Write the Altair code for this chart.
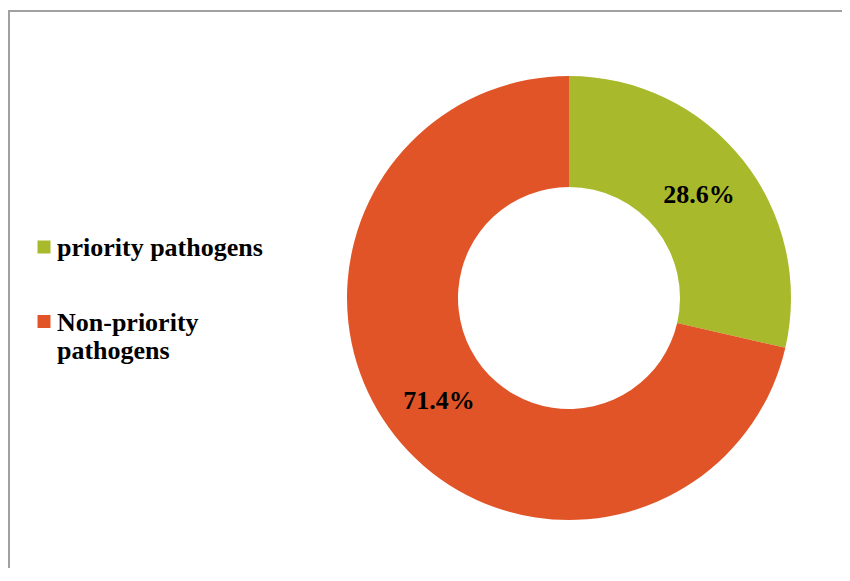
import altair as alt
import pandas as pd

categories = ["priority pathogens", "Non-priority pathogens"]
legend_text = ["priority pathogens", "Non-priority\npathogens"]
shares = [28.6, 71.4]
label_text = ["28.6%", "71.4%"]
colors = ["#A8B92B", "#E15427"]

df = pd.DataFrame({
    "category": categories,
    "share": shares,
    "label": label_text,
    "legend": legend_text,
    "order": [0, 1],
})

color = alt.Color("category:N", scale=alt.Scale(domain=categories, range=colors), legend=None)
FONT = "Liberation Serif"

frame = alt.Chart(pd.DataFrame({"a": [0]})).mark_rect(
    fill=None, stroke="#A0A0A0", strokeWidth=2
).encode(x=alt.value(-9), x2=alt.value(900), y=alt.value(-7), y2=alt.value(700))

base = alt.Chart(df).encode(
    theta=alt.Theta("share:Q", stack=True),
    order=alt.Order("order:Q"),
    color=color,
)

arcs = base.mark_arc(outerRadius=222, innerRadius=111).encode(
    x=alt.value(551), y=alt.value(280)
)

pct = base.mark_text(
    radius=166, font=FONT, fontSize=26, fontWeight="bold", baseline="middle", align="center"
).encode(
    x=alt.value(551), y=alt.value(280), text="label:N", color=alt.value("black")
)

ypos = alt.Y("order:Q", scale=alt.Scale(domain=[0, 1], range=[229, 303.5]), axis=None)

leg_sq = alt.Chart(df).mark_square(size=169, opacity=1).encode(
    x=alt.value(26), y=ypos, color=color
)
leg_txt = alt.Chart(df).mark_text(
    font=FONT, fontSize=26, fontWeight="bold", align="left", baseline="alphabetic",
    lineBreak="\n", lineHeight=28, dy=9, color="black"
).encode(x=alt.value(39), y=ypos, text="legend:N")

chart = alt.layer(frame, arcs, pct, leg_sq, leg_txt).properties(
    width=814, height=540, padding=10, autosize=alt.AutoSizeParams(type="none")
).configure_view(stroke=None)

chart.save("out.html", embed_options={"renderer": "svg", "actions": False})
